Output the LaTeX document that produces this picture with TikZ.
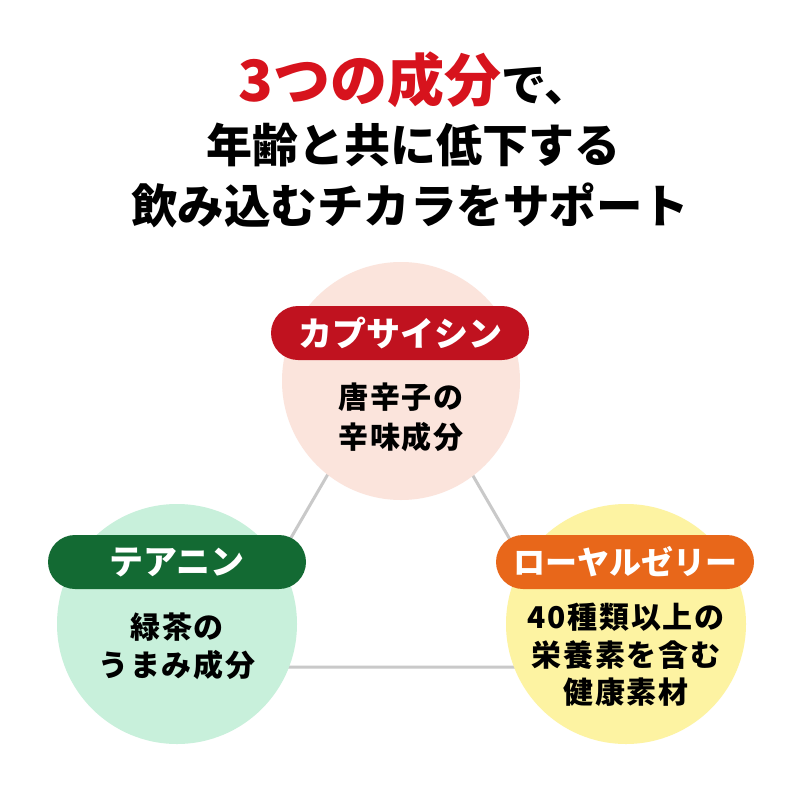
\documentclass[tikz,border=0pt]{standalone}
\usepackage{fontspec}
\newfontfamily\jp{Noto Sans CJK JP}
\definecolor{titlered}{HTML}{D7131D}
\definecolor{pinkc}{HTML}{FBE4DC}
\definecolor{greenc}{HTML}{C8F0DB}
\definecolor{yellowc}{HTML}{FDF3A2}
\definecolor{redp}{HTML}{C0121F}
\definecolor{greenp}{HTML}{136A33}
\definecolor{orangep}{HTML}{E8671A}
\definecolor{linkgray}{HTML}{C9C9C9}
\tikzset{
  link/.style={draw=linkgray, line width=3pt},
  blob/.style={circle, minimum size=238pt, inner sep=0pt, draw=none},
  pill/.style={rectangle, rounded corners=27pt, minimum width=258pt, minimum height=54pt, inner sep=0pt, text=white, font=\jp\bfseries\fontsize{34}{40}\selectfont},
  body/.style={align=center, inner sep=0pt, text=black},
  title/.style={inner sep=0pt, text=black, font=\jp\bfseries}
}
\begin{document}
\begin{tikzpicture}[x=1pt,y=-1pt]
\useasboundingbox (0,0) rectangle (800,800);
\fill[white] (0,0) rectangle (800,800);
% title
\node[title, anchor=center] (h1) at (414,80) {{\color{titlered}\fontsize{57}{62}\selectfont 3つの成分}{\fontsize{45}{50}\selectfont で、}};
\node[title, anchor=center] (h2) at (413,145) {\fontsize{46}{50}\selectfont 年齢と共に低下する};
\node[title, anchor=center] (h3) at (410,205) {\fontsize{46.5}{50}\selectfont 飲み込むチカラをサポート};
% triangle links
\coordinate (tA) at (400,350);
\coordinate (tB) at (216,667);
\coordinate (tC) at (584,667);
\draw[link] (tA) -- (tB) -- (tC) -- cycle;
% circles
\node[blob, fill=pinkc] (c1) at (401,381) {};
\node[blob, fill=greenc, minimum size=240pt] (c2) at (177,624) {};
\node[blob, fill=yellowc, minimum size=240pt] (c3) at (626,624) {};
% pills
\node[pill, fill=redp] (p1) at (400,333) {カプサイシン};
\node[pill, fill=greenp] (p2) at (177,562) {テアニン};
\node[pill, fill=orangep, font=\jp\bfseries\fontsize{32}{40}\selectfont] (p3) at (625,562) {ローヤルゼリー};
% body texts
\node[body, font=\jp\bfseries\addfontfeature{LetterSpace=6}\fontsize{30}{40}\selectfont] (b1) at (401,417) {唐辛子の\\辛味成分};
\node[body, font=\jp\bfseries\addfontfeature{LetterSpace=6}\fontsize{30}{38}\selectfont] (b2) at (177,646) {緑茶の\\うまみ成分};
\node[body, font=\jp\bfseries\addfontfeature{LetterSpace=6}\fontsize{30}{37.5}\selectfont] (b3) at (626,655) {40種類以上の\\栄養素を含む\\健康素材};
\end{tikzpicture}
\end{document}
